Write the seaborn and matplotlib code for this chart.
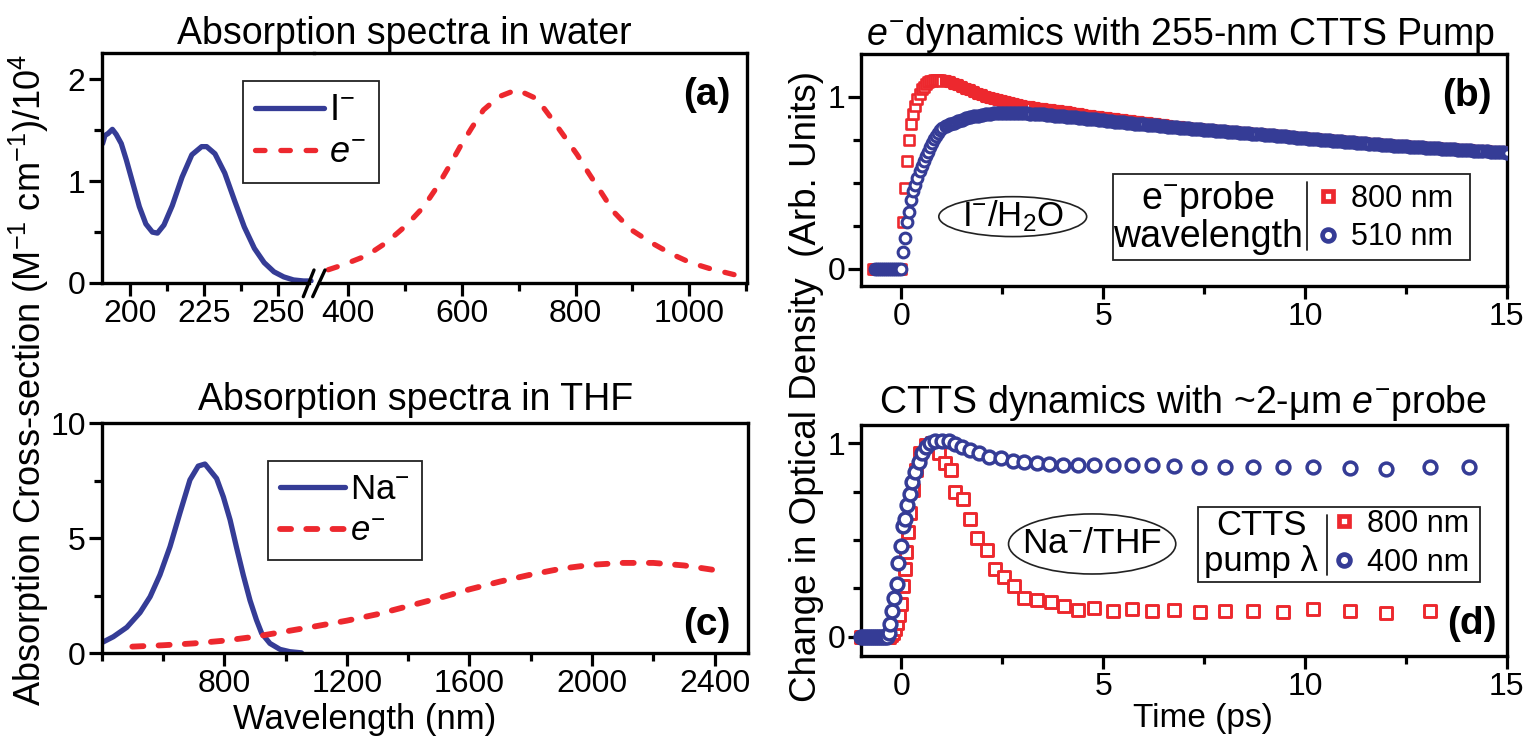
import numpy as np
import matplotlib
matplotlib.use("Agg")
import matplotlib.pyplot as plt
import seaborn as sns
from matplotlib.lines import Line2D
from matplotlib.patches import Ellipse, Rectangle
from matplotlib.ticker import FixedLocator

sns.set_theme(style="ticks")
plt.rcParams['font.family'] = ['Liberation Sans', 'DejaVu Sans']
plt.rcParams.update({
    'mathtext.fontset': 'custom',
    'mathtext.rm': 'Liberation Sans',
    'mathtext.it': 'Liberation Sans:italic',
    'mathtext.bf': 'Liberation Sans:bold',
    'text.color': 'black', 'axes.labelcolor': 'black',
    'xtick.color': 'black', 'ytick.color': 'black',
})

BLUE = '#353c96'
RED = '#ed282e'
EDGE = '#222222'

# ---- (a) absorption in water ----
iodide_nm = [190.7, 191.5, 192.6, 194.0, 195.3, 197.0, 198.7, 200.9, 203.1, 205.3,
             207.5, 209.2, 211.4, 214.2, 217.5, 220.8, 224.1, 225.8, 228.6, 231.9,
             235.2, 238.5, 241.9, 245.2, 248.5, 251.8, 255.1, 258.5, 261.0]
iodide_abs = [1.37, 1.45, 1.47, 1.51, 1.46, 1.37, 1.21, 0.98, 0.75, 0.58,
              0.50, 0.49, 0.57, 0.76, 1.04, 1.26, 1.34, 1.34, 1.27, 1.08,
              0.81, 0.55, 0.34, 0.20, 0.11, 0.06, 0.03, 0.02, 0.02]
ewater_nm = [365, 392, 433, 468, 503, 533, 556, 577, 597, 618, 638, 665, 697,
             732, 756, 779, 803, 823, 844, 867, 896, 932, 967, 1002, 1037, 1084]
ewater_abs = [0.13, 0.18, 0.27, 0.40, 0.57, 0.75, 0.94, 1.14, 1.34, 1.53, 1.70, 1.83, 1.90,
              1.81, 1.63, 1.45, 1.26, 1.08, 0.90, 0.70, 0.53, 0.40, 0.29, 0.20, 0.14, 0.075]

# ---- (c) absorption in THF ----
sodide_nm = [400, 438, 482, 525, 558, 590, 623, 655, 688, 715, 737, 775, 797,
             819, 840, 862, 884, 905, 922, 949, 982, 1014, 1052]
sodide_abs = [0.46, 0.72, 1.13, 1.77, 2.46, 3.41, 4.64, 6.09, 7.54, 8.14, 8.23, 7.6, 6.8,
              5.8, 4.6, 3.4, 2.3, 1.45, 0.87, 0.43, 0.17, 0.07, 0.02]
ethf_nm = [500, 600, 700, 800, 900, 1000, 1100, 1200, 1300, 1400,
           1500, 1600, 1700, 1800, 1900, 2000, 2100, 2200, 2300, 2400]
ethf_abs = [0.29, 0.35, 0.43, 0.55, 0.72, 0.95, 1.18, 1.42, 1.70, 2.05,
            2.40, 2.78, 3.12, 3.42, 3.68, 3.85, 3.93, 3.93, 3.82, 3.62]

# ---- (b) e- dynamics, I-/H2O (time grid of the measurement) ----
b_red_t = np.round(np.concatenate([np.arange(-0.70, 0.001, 0.05),
                                   np.arange(0.05, 1.001, 0.05),
                                   np.arange(1.1, 15.001, 0.1)]), 2)
b_red_y = ([0.0] * 15 +
           [0.27, 0.47, 0.63, 0.75, 0.84, 0.90, 0.95, 0.99, 1.02, 1.045,
            1.06, 1.075, 1.085, 1.09, 1.095, 1.10, 1.10, 1.10, 1.10, 1.095] +
           [1.092, 1.086, 1.078, 1.068, 1.058, 1.048, 1.038, 1.028, 1.018, 1.010,
            1.002, 0.994, 0.987, 0.980, 0.974, 0.968, 0.963, 0.958, 0.953, 0.948,
            0.944, 0.940, 0.936, 0.932, 0.929, 0.926, 0.923, 0.920, 0.917, 0.914,
            0.910, 0.906, 0.902, 0.898, 0.894, 0.891, 0.888, 0.885, 0.882, 0.879,
            0.876, 0.873, 0.870, 0.867, 0.864, 0.861, 0.858, 0.855, 0.852, 0.849,
            0.846, 0.843, 0.840, 0.837, 0.834, 0.831, 0.828, 0.825, 0.823, 0.820,
            0.818, 0.816, 0.814, 0.812, 0.810, 0.808, 0.806, 0.804, 0.802, 0.800,
            0.798, 0.796, 0.794, 0.792, 0.790, 0.788, 0.786, 0.784, 0.782, 0.780,
            0.778, 0.776, 0.774, 0.772, 0.770, 0.768, 0.766, 0.764, 0.762, 0.760,
            0.758, 0.756, 0.754, 0.752, 0.750, 0.748, 0.746, 0.744, 0.742, 0.740,
            0.738, 0.736, 0.734, 0.732, 0.730, 0.728, 0.726, 0.724, 0.722, 0.720,
            0.719, 0.717, 0.716, 0.714, 0.713, 0.711, 0.710, 0.708, 0.707, 0.705,
            0.704, 0.702, 0.701, 0.699, 0.698, 0.696, 0.695, 0.693, 0.692, 0.690,
            0.689, 0.687, 0.686, 0.684, 0.683, 0.681, 0.680, 0.678, 0.677, 0.675])
b_blue_t = np.round(np.concatenate([np.arange(-0.65, 0.001, 0.05),
                                    np.arange(0.05, 1.001, 0.05),
                                    np.arange(1.1, 15.001, 0.1)]), 2)
b_blue_y = ([0.0] * 14 +
            [0.10, 0.18, 0.27, 0.33, 0.40, 0.45, 0.49, 0.53, 0.57, 0.60,
             0.63, 0.655, 0.68, 0.71, 0.735, 0.755, 0.775, 0.79, 0.805, 0.82] +
            [0.832, 0.842, 0.851, 0.860, 0.868, 0.875, 0.881, 0.887, 0.892, 0.896,
             0.899, 0.902, 0.904, 0.906, 0.907, 0.908, 0.908, 0.908, 0.907, 0.906,
             0.905, 0.903, 0.902, 0.900, 0.898, 0.896, 0.894, 0.892, 0.890, 0.888,
             0.886, 0.884, 0.881, 0.879, 0.877, 0.874, 0.872, 0.870, 0.867, 0.865,
             0.862, 0.860, 0.857, 0.855, 0.852, 0.850, 0.847, 0.845, 0.843, 0.840,
             0.838, 0.836, 0.834, 0.832, 0.830, 0.828, 0.826, 0.824, 0.822, 0.820,
             0.818, 0.816, 0.814, 0.812, 0.810, 0.808, 0.806, 0.804, 0.802, 0.800,
             0.798, 0.796, 0.794, 0.792, 0.790, 0.788, 0.786, 0.784, 0.782, 0.780,
             0.778, 0.776, 0.774, 0.772, 0.770, 0.768, 0.766, 0.764, 0.762, 0.760,
             0.758, 0.756, 0.754, 0.752, 0.750, 0.748, 0.746, 0.744, 0.742, 0.740,
             0.738, 0.736, 0.734, 0.732, 0.730, 0.728, 0.726, 0.724, 0.722, 0.720,
             0.719, 0.717, 0.716, 0.714, 0.713, 0.711, 0.710, 0.708, 0.707, 0.705,
             0.704, 0.702, 0.701, 0.699, 0.698, 0.696, 0.695, 0.693, 0.692, 0.690,
             0.689, 0.687, 0.686, 0.684, 0.683, 0.681, 0.680, 0.678, 0.677, 0.675])

# ---- (d) CTTS dynamics, Na-/THF ----
d_red_t = list(np.round(np.arange(-1.0, -0.299, 0.05), 2)) + [
    -0.25, -0.2, -0.15, -0.1, -0.05, 0.0, 0.04, 0.08, 0.12, 0.17, 0.22, 0.29, 0.37,
    0.47, 0.60, 0.76, 0.93, 1.07, 1.23, 1.32, 1.53, 1.71, 1.88, 2.13, 2.31, 2.54,
    2.79, 3.04, 3.37, 3.70, 4.03, 4.38, 4.78, 5.24, 5.71, 6.21, 6.76, 7.40, 8.01,
    8.71, 9.45, 10.21, 11.12, 12.02, 13.11]
d_red_y = [0.0] * 15 + [
    0.01, 0.02, 0.04, 0.07, 0.11, 0.17, 0.26, 0.35, 0.44, 0.54, 0.64, 0.76, 0.86,
    0.95, 0.99, 1.0, 0.95, 0.90, 0.86, 0.75, 0.71, 0.61, 0.51, 0.45, 0.35, 0.31,
    0.26, 0.20, 0.19, 0.18, 0.16, 0.14, 0.15, 0.131, 0.144, 0.135, 0.14, 0.126, 0.131,
    0.131, 0.126, 0.144, 0.131, 0.121, 0.131]
d_blue_t = list(np.round(np.arange(-1.0, -0.349, 0.05), 2)) + [
    -0.31, -0.27, -0.23, -0.17, -0.12, -0.09, -0.02, 0.04, 0.10, 0.14, 0.21, 0.27,
    0.35, 0.43, 0.51, 0.60, 0.70, 0.84, 1.01, 1.18, 1.34, 1.51, 1.71, 1.92, 2.17,
    2.46, 2.77, 3.04, 3.37, 3.66, 4.01, 4.38, 4.78, 5.24, 5.71, 6.21, 6.76, 7.38,
    8.01, 8.71, 9.45, 10.21, 11.12, 12.02, 13.11, 14.07]
d_blue_y = [0.0] * 14 + [
    0.02, 0.066, 0.135, 0.20, 0.27, 0.38, 0.47, 0.57, 0.61, 0.68, 0.74, 0.80,
    0.85, 0.905, 0.95, 0.98, 1.0, 1.014, 1.014, 1.01, 0.995, 0.98, 0.965, 0.948, 0.93,
    0.922, 0.91, 0.905, 0.90, 0.893, 0.888, 0.888, 0.888, 0.888, 0.888, 0.888, 0.882, 0.879,
    0.879, 0.879, 0.879, 0.879, 0.870, 0.867, 0.879, 0.879]

W, H = 1527, 741
fig = plt.figure(figsize=(W / 100, H / 100), dpi=100)


def px_box(x0, y0, x1, y1):
    return [x0 / W, 1 - y1 / H, (x1 - x0) / W, (y1 - y0) / H]


def style(ax):
    for sp in ax.spines.values():
        sp.set_linewidth(2.4)
        sp.set_color('black')
    ax.tick_params(which='major', direction='out', length=9.5, width=2.3, pad=2, labelsize=23)
    ax.tick_params(which='minor', direction='out', length=5.5, width=2.3)


DASH = (0, (1.8, 3.0))
TITLE = 27

ax_al = fig.add_axes(px_box(101.7, 53, 314, 283))
ax_ar = fig.add_axes(px_box(314, 53, 746.7, 283))
ax_b = fig.add_axes(px_box(861, 54, 1506.7, 286))
ax_c = fig.add_axes(px_box(101.7, 423.3, 748.3, 653.3))
ax_d = fig.add_axes(px_box(861, 425, 1506.7, 656))
for ax in (ax_al, ax_ar, ax_b, ax_c, ax_d):
    style(ax)

# (a)
sns.lineplot(x=iodide_nm, y=iodide_abs, ax=ax_al, color=BLUE, linewidth=3.8,
             estimator=None, sort=False, solid_capstyle='round')
sns.lineplot(x=ewater_nm, y=ewater_abs, ax=ax_ar, color=RED, linewidth=3.8,
             estimator=None, sort=False, linestyle=DASH, dash_capstyle='round')
ax_al.set_xlim(190.4, 262)
ax_ar.set_xlim(340, 1101)
for ax in (ax_al, ax_ar):
    ax.set_ylim(0, 2.26)
    ax.set_xlabel('')
    ax.set_ylabel('')
ax_al.xaxis.set_major_locator(FixedLocator([200, 225, 250]))
ax_al.xaxis.set_minor_locator(FixedLocator([212.5, 237.5]))
ax_al.yaxis.set_major_locator(FixedLocator([0, 1, 2]))
ax_al.yaxis.set_minor_locator(FixedLocator([0.5, 1.5]))
ax_al.spines['right'].set_visible(False)
ax_al.spines['bottom'].set_bounds(190.4, 260.25)
ax_ar.xaxis.set_major_locator(FixedLocator([400, 600, 800, 1000]))
ax_ar.xaxis.set_minor_locator(FixedLocator([500, 700, 900, 1100]))
ax_ar.spines['left'].set_visible(False)
ax_ar.spines['bottom'].set_bounds(348.8, 1101)
ax_ar.tick_params(axis='y', which='both', left=False, labelleft=False)
ax_ar.set_facecolor('none')
for xs in ((303.3, 314.0), (312.7, 325.0)):
    fig.add_artist(Line2D([xs[0] / W, xs[1] / W], [1 - 296.7 / H, 1 - 270 / H],
                          color='black', lw=2.4, transform=fig.transFigure))

leg_a = ax_ar.legend(
    handles=[Line2D([], [], color=BLUE, lw=3.8, solid_capstyle='round'),
             Line2D([], [], color=RED, lw=3.8, ls=DASH, dash_capstyle='round')],
    labels=[r'I$^{-}$', r'$e^{-}$'], loc='upper left',
    bbox_to_anchor=(242.7 / W, 1 - 80.7 / H), bbox_transform=fig.transFigure,
    fontsize=26, frameon=True, fancybox=False, framealpha=1, edgecolor=EDGE,
    borderpad=0.35, borderaxespad=0, handlelength=1.9, handletextpad=0.15, labelspacing=0.2)
leg_a.get_frame().set_linewidth(1.3)
fig.text(707 / W, 1 - 95 / H, '(a)', fontsize=28, fontweight='bold', ha='center', va='center')
fig.text(404 / W, 1 - 44 / H, 'Absorption spectra in water', fontsize=TITLE, ha='center', va='baseline')

# (c)
sns.lineplot(x=sodide_nm, y=sodide_abs, ax=ax_c, color=BLUE, linewidth=3.8,
             estimator=None, sort=False, solid_capstyle='round')
sns.lineplot(x=ethf_nm, y=ethf_abs, ax=ax_c, color=RED, linewidth=4.2,
             estimator=None, sort=False, linestyle=(0, (1.9, 2.6)), dash_capstyle='round')
ax_c.set_xlim(400, 2510)
ax_c.set_ylim(0, 10)
ax_c.set_xlabel('')
ax_c.set_ylabel('')
ax_c.xaxis.set_major_locator(FixedLocator([800, 1200, 1600, 2000, 2400]))
ax_c.xaxis.set_minor_locator(FixedLocator([400, 600, 1000, 1400, 1800, 2200]))
ax_c.yaxis.set_major_locator(FixedLocator([0, 5, 10]))
ax_c.yaxis.set_minor_locator(FixedLocator([2.5, 7.5]))
leg_c = ax_c.legend(
    handles=[Line2D([], [], color=BLUE, lw=3.8, solid_capstyle='round'),
             Line2D([], [], color=RED, lw=4.2, ls=(0, (1.9, 2.6)), dash_capstyle='round')],
    labels=[r'Na$^{-}$', r'$e^{-}$'], loc='upper left',
    bbox_to_anchor=(267.7 / W, 1 - 461 / H), bbox_transform=fig.transFigure,
    fontsize=25, frameon=True, fancybox=False, framealpha=1, edgecolor=EDGE,
    borderpad=0.35, borderaxespad=0, handlelength=1.87, handletextpad=0.15, labelspacing=0.25)
leg_c.get_frame().set_linewidth(1.3)
ax_c.text(0.936, 0.123, '(c)', transform=ax_c.transAxes, fontsize=28, fontweight='bold',
          ha='center', va='center')
fig.text(416 / W, 1 - 410 / H, 'Absorption spectra in THF', fontsize=TITLE, ha='center', va='baseline')
fig.text(365 / W, 1 - 719 / H, 'Wavelength (nm)', fontsize=25, ha='center', va='center')


def kinetics_axes(ax, ylim):
    ax.set_xlim(-1, 15)
    ax.set_ylim(*ylim)
    ax.set_xlabel('')
    ax.set_ylabel('')
    ax.xaxis.set_major_locator(FixedLocator([0, 5, 10, 15]))
    ax.xaxis.set_minor_locator(FixedLocator([2.5, 7.5, 12.5]))
    ax.yaxis.set_major_locator(FixedLocator([0, 1]))
    ax.yaxis.set_minor_locator(FixedLocator([0.25, 0.5, 0.75]))


def key_box(ax, box, sep_x, sep_y, text_x, lines, text_size, labels, marker_x, rows_y):
    ax.add_patch(Rectangle((box[0], box[1]), box[2], box[3], transform=ax.transAxes,
                           facecolor='white', edgecolor=EDGE, lw=1.3, zorder=5))
    ax.add_line(Line2D([sep_x, sep_x], sep_y, transform=ax.transAxes, color=EDGE, lw=1.3, zorder=6))
    for txt, yy in zip(lines, rows_y):
        ax.text(text_x, yy, txt, transform=ax.transAxes, ha='center', va='center',
                fontsize=text_size, zorder=6)
    handles = [Line2D([], [], ls='none', marker='s', ms=7.5, mew=3.4, mec=RED, mfc='white'),
               Line2D([], [], ls='none', marker='o', ms=8.5, mew=3.4, mec=BLUE, mfc='white')]
    leg = ax.legend(handles=handles, labels=labels, loc='center left',
                    bbox_to_anchor=(marker_x, sum(rows_y) / 2), frameon=False, fontsize=22,
                    handlelength=0.8, handletextpad=0.35, labelspacing=0.28,
                    borderpad=0, borderaxespad=0)
    leg.set_zorder(7)


# (b): the densely sampled tail (t > 1 ps) overlaps into a solid band
red_t, red_y = np.asarray(b_red_t), np.asarray(b_red_y)
blue_t, blue_y = np.asarray(b_blue_t), np.asarray(b_blue_y)
early_r, early_b = red_t <= 1.05, blue_t <= 1.05
sns.scatterplot(x=red_t[early_r], y=red_y[early_r], ax=ax_b, marker='s', s=45,
                facecolor='white', edgecolor=RED, linewidth=1.9, legend=False, zorder=3)
sns.scatterplot(x=red_t[~early_r], y=red_y[~early_r], ax=ax_b, marker='s', s=32,
                facecolor='white', edgecolor=RED, linewidth=3.0, legend=False, zorder=3)
sns.scatterplot(x=blue_t[early_b], y=blue_y[early_b], ax=ax_b, marker='o', s=60,
                facecolor='white', edgecolor=BLUE, linewidth=2.2, legend=False, zorder=4)
sns.scatterplot(x=blue_t[~early_b], y=blue_y[~early_b], ax=ax_b, marker='o', s=46,
                facecolor='white', edgecolor=BLUE, linewidth=3.6, legend=False, zorder=4)
kinetics_axes(ax_b, (-0.1, 1.25))
key_box(ax_b, (0.390, 0.112, 0.553, 0.371), 0.691, [0.155, 0.448], 0.537,
        [r'e$^{-}$probe', 'wavelength'], 27, ['800 nm', '510 nm'], 0.705, [0.375, 0.211])
ax_b.add_patch(Ellipse((0.235, 0.299), 0.229, 0.172, transform=ax_b.transAxes,
                       fill=False, edgecolor=EDGE, lw=1.2))
ax_b.text(0.235, 0.299, r'I$^{-}$/H$_{2}$O', transform=ax_b.transAxes, fontsize=25,
          ha='center', va='center')
ax_b.text(0.9385, 0.819, '(b)', transform=ax_b.transAxes, fontsize=28, fontweight='bold',
          ha='center', va='center')
fig.text(1181 / W, 1 - 45 / H, r'$e^{-}$dynamics with 255-nm CTTS Pump', fontsize=TITLE,
         ha='center', va='baseline')

# (d)
sns.scatterplot(x=d_red_t, y=d_red_y, ax=ax_d, marker='s', s=64, facecolor='white',
                edgecolor=RED, linewidth=2.1, legend=False, zorder=3, clip_on=False)
sns.scatterplot(x=d_blue_t, y=d_blue_y, ax=ax_d, marker='o', s=85, facecolor='white',
                edgecolor=BLUE, linewidth=2.5, legend=False, zorder=4, clip_on=False)
kinetics_axes(ax_d, (-0.1, 1.095))
key_box(ax_d, (0.522, 0.32, 0.436, 0.325), 0.721, [0.35, 0.61], 0.62,
        ['CTTS', 'pump λ'], 25, ['800 nm', '400 nm'], 0.7295, [0.567, 0.408])
ax_d.add_patch(Ellipse((0.358, 0.485), 0.259, 0.26, transform=ax_d.transAxes,
                       fill=False, edgecolor=EDGE, lw=1.2))
ax_d.text(0.358, 0.485, r'Na$^{-}$/THF', transform=ax_d.transAxes, fontsize=25.5,
          ha='center', va='center')
ax_d.text(0.946, 0.1385, '(d)', transform=ax_d.transAxes, fontsize=28, fontweight='bold',
          ha='center', va='center')
fig.text(1183 / W, 1 - 413 / H, r'CTTS dynamics with ~2-μm $e^{-}$probe', fontsize=TITLE,
         ha='center', va='baseline')
fig.text(1203 / W, 1 - 719 / H, 'Time (ps)', fontsize=24, ha='center', va='center')

# shared axis titles
fig.text(29 / W, 1 - 380 / H, r'Absorption Cross-section (M$^{-1}$ cm$^{-1}$)/10$^{4}$',
         rotation=90, fontsize=26, ha='center', va='center')
fig.text(806 / W, 1 - 387 / H, 'Change in Optical Density  (Arb. Units)',
         rotation=90, fontsize=26.5, ha='center', va='center')

fig.savefig('out.png', dpi=100)
